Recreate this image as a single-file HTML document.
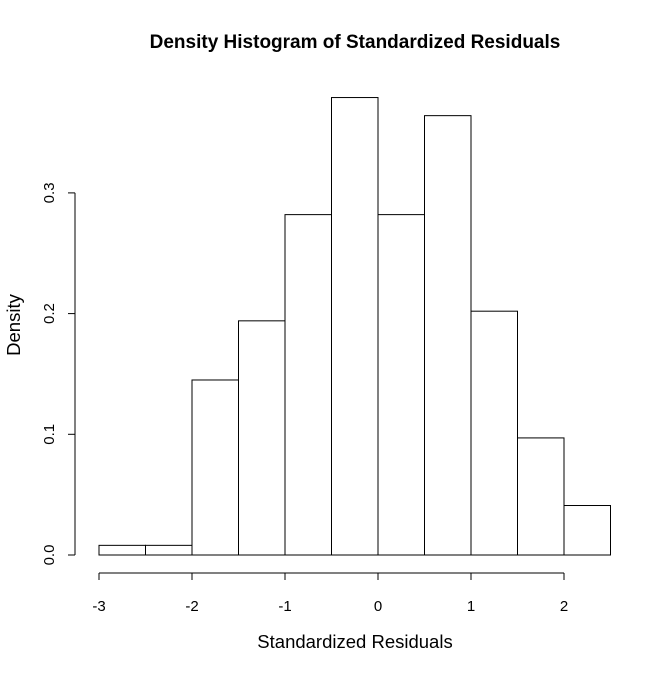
<!DOCTYPE html>
<html><head><meta charset="utf-8"><style>
html,body{margin:0;padding:0;background:#fff}
svg text{font-family:"Liberation Sans",Arial,sans-serif;fill:#000}
</style></head><body>
<svg id="chart" width="672" height="672" xmlns="http://www.w3.org/2000/svg">
<text x="355" y="48" text-anchor="middle" font-size="19" font-weight="bold">Density Histogram of Standardized Residuals</text>
<text x="355" y="648" text-anchor="middle" font-size="18.5">Standardized Residuals</text>
<text transform="translate(20,325) rotate(-90)" text-anchor="middle" font-size="18.5">Density</text>
<g id="bars"></g>
<g id="xaxis"></g>
<g id="yaxis"></g>
</svg>
<script>
const binStarts = [-3,-2.5,-2,-1.5,-1,-0.5,0,0.5,1,1.5,2];
const densities = [0.008,0.008,0.145,0.194,0.282,0.379,0.282,0.364,0.202,0.097,0.041];
const binWidth = 0.5;
const xTicks = [-3,-2,-1,0,1,2];
const xTickLabels = ["-3","-2","-1","0","1","2"];
const yTicks = [0,0.1,0.2,0.3];
const yTickLabels = ["0.0","0.1","0.2","0.3"];

const NS="http://www.w3.org/2000/svg";
function sx(v){return 378+v*93;}
function sy(v){return 555-v*1207;}
function mk(tag,attrs,parent){const e=document.createElementNS(NS,tag);for(const k in attrs)e.setAttribute(k,attrs[k]);parent.appendChild(e);return e;}

const bars=document.getElementById('bars');
binStarts.forEach((b,i)=>{
  const x0=sx(b),x1=sx(b+binWidth),y=sy(densities[i]);
  const r=mk('rect',{x:x0,y:y,width:x1-x0,height:sy(0)-y,fill:'#fff',stroke:'#000','stroke-width':1},bars);
  
  
});

const xa=document.getElementById('xaxis');
mk('line',{x1:sx(xTicks[0]),x2:sx(xTicks[xTicks.length-1]),y1:573,y2:573,stroke:'#000'},xa);
xTicks.forEach((t,i)=>{
  mk('line',{x1:sx(t),x2:sx(t),y1:573,y2:580,stroke:'#000'},xa);
  const tx=mk('text',{x:sx(t),y:611,'text-anchor':'middle','font-size':'15'},xa);
  tx.textContent=xTickLabels[i];
  
  
});

const ya=document.getElementById('yaxis');
mk('line',{x1:75,x2:75,y1:sy(yTicks[0]),y2:sy(yTicks[yTicks.length-1]),stroke:'#000'},ya);
yTicks.forEach((t,i)=>{
  mk('line',{x1:68,x2:75,y1:sy(t),y2:sy(t),stroke:'#000'},ya);
  const tx=mk('text',{transform:'translate(54,'+sy(t)+') rotate(-90)','text-anchor':'middle','font-size':'15'},ya);
  tx.textContent=yTickLabels[i];
  
  
});
</script>
</body></html>
